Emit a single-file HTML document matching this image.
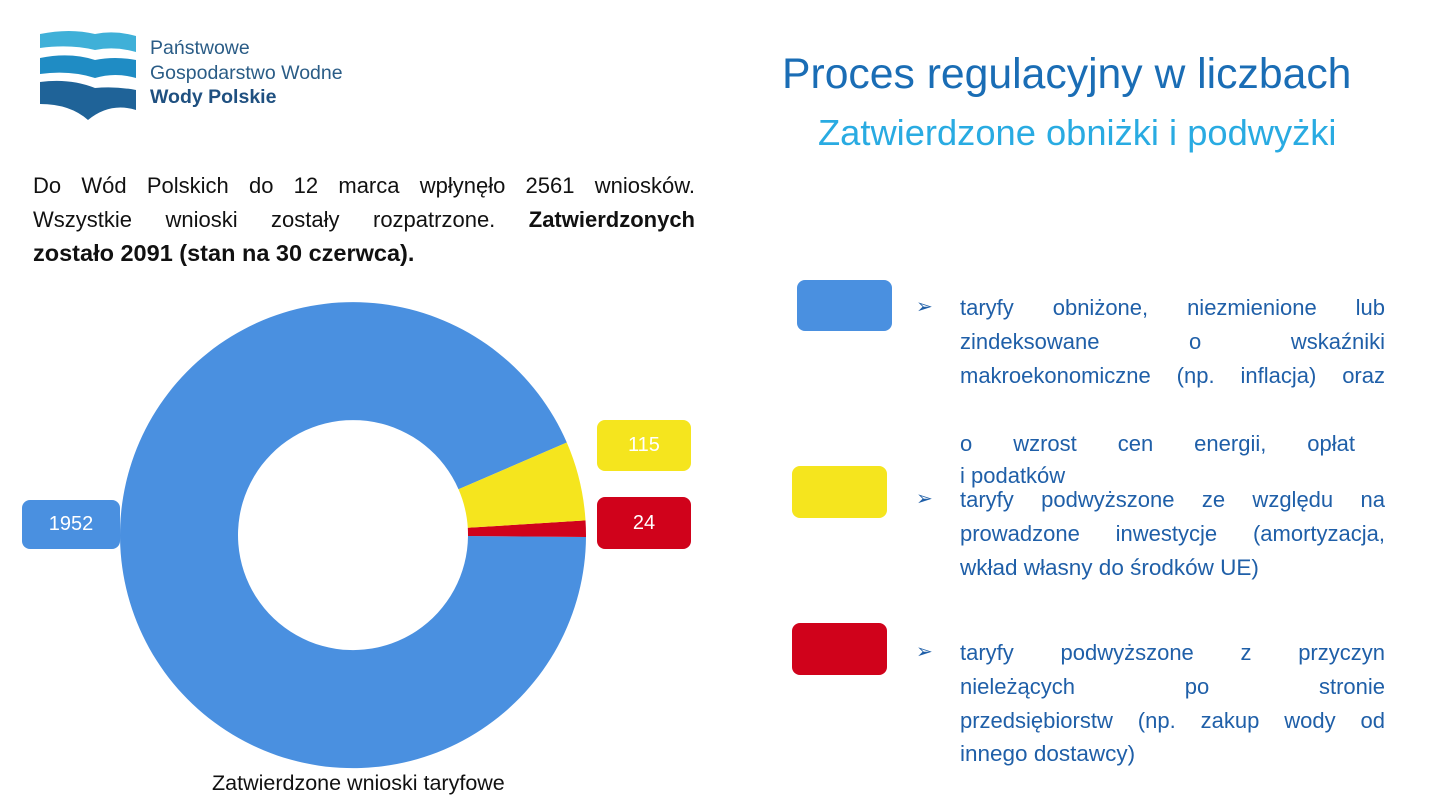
<!DOCTYPE html>
<html><head><meta charset="utf-8"><style>
body{margin:0;width:1440px;height:810px;background:#fff;position:relative;overflow:hidden;font-family:"Liberation Sans",sans-serif}
.a{position:absolute;white-space:nowrap}
.j{position:absolute;left:960px;width:425px;font-size:22px;color:#1f5fa8;text-align:justify;text-align-last:justify;white-space:nowrap}
.ar{position:absolute;left:916px;font-size:20px;color:#1f5fa8}
.box{position:absolute;border-radius:8px;color:#fff;font-size:20px;display:flex;align-items:center;justify-content:center}
.p{position:absolute;left:33px;width:662px;font-size:22px;color:#111;text-align:justify;text-align-last:justify;white-space:nowrap}
</style></head><body>
<svg class="a" style="left:40px;top:30px" width="96" height="92" viewBox="0 0 96 92">
<path d="M0 4 Q30 -2 55 4 Q75 0 96 6 V22 Q75 16 55 20 Q30 14 0 18Z" fill="#3fb0d8"/>
<path d="M0 28 Q30 22 55 30 Q75 26 96 30 V48 Q75 42 55 48 Q30 40 0 44Z" fill="#1f8cc4"/>
<path d="M0 52 Q30 48 55 58 Q75 56 96 60 V80 Q70 72 48 90 Q30 74 0 74Z" fill="#1f6398"/>
</svg>
<div class="a" style="left:150px;top:37px;font-size:19.5px;color:#2a5c86">Państwowe</div>
<div class="a" style="left:150px;top:62px;font-size:19.5px;color:#2a5c86">Gospodarstwo Wodne</div>
<div class="a" style="left:150px;top:86px;font-size:19.5px;color:#1f5080;font-weight:bold">Wody Polskie</div>
<div class="a" style="left:782px;top:50px;font-size:42.7px;color:#1a6db5">Proces regulacyjny w liczbach</div>
<div class="a" style="left:818px;top:112px;font-size:36.3px;color:#29abe2">Zatwierdzone obniżki i podwyżki</div>
<div class="p" style="top:173px">Do Wód Polskich do 12 marca wpłynęło 2561 wniosków.</div>
<div class="p" style="top:207px">Wszystkie wnioski zostały rozpatrzone. <b>Zatwierdzonych</b></div>
<div class="a" style="left:33px;top:240px;font-size:23.5px;color:#111;font-weight:bold">zostało 2091 (stan na 30 czerwca).</div>
<svg class="a" style="left:0;top:0" width="700" height="810">
<path d="M566.8 442.5 A233 233 0 1 0 586 537 L468 536 A115 115 0 1 1 458.5 489.3 Z" fill="#4a90e0"/>
<path d="M586 537 A233 233 0 0 0 585.5 520.4 L467.8 527.8 A115 115 0 0 1 468 536 Z" fill="#d0021b"/>
<path d="M585.5 520.4 A233 233 0 0 0 566.8 442.5 L458.5 489.3 A115 115 0 0 1 467.8 527.8 Z" fill="#f5e51e"/>
</svg>
<div class="box" style="left:22px;top:500px;width:98px;height:49px;background:#4a90e0">1952</div>
<div class="box" style="left:597px;top:420px;width:94px;height:51px;background:#f5e51e">115</div>
<div class="box" style="left:597px;top:497px;width:94px;height:52px;background:#d0021b">24</div>
<div class="a" style="left:212px;top:771px;font-size:21.5px;color:#111">Zatwierdzone wnioski taryfowe</div>
<div class="box" style="left:797px;top:280px;width:95px;height:51px;background:#4a90e0"></div>
<div class="box" style="left:792px;top:466px;width:95px;height:52px;background:#f5e51e"></div>
<div class="box" style="left:792px;top:623px;width:95px;height:52px;background:#d0021b"></div>
<div class="ar" style="top:294px">➢</div>
<div class="ar" style="top:486px">➢</div>
<div class="ar" style="top:639px">➢</div>
<div class="j" style="top:295px">taryfy obniżone, niezmienione lub</div>
<div class="j" style="top:329px">zindeksowane o wskaźniki</div>
<div class="j" style="top:363px">makroekonomiczne (np. inflacja) oraz</div>
<div class="j" style="top:431px;width:395px">o wzrost cen energii, opłat</div>
<div class="a" style="left:960px;top:463px;font-size:22px;color:#1f5fa8">i podatków</div>
<div class="j" style="top:487px">taryfy podwyższone ze względu na</div>
<div class="j" style="top:521px">prowadzone inwestycje (amortyzacja,</div>
<div class="a" style="left:960px;top:555px;font-size:22.5px;color:#1f5fa8">wkład własny do środków UE)</div>
<div class="j" style="top:640px">taryfy podwyższone z przyczyn</div>
<div class="j" style="top:674px">nieleżących po stronie</div>
<div class="j" style="top:708px">przedsiębiorstw (np. zakup wody od</div>
<div class="a" style="left:960px;top:741px;font-size:22.5px;color:#1f5fa8">innego dostawcy)</div>
</body></html>
